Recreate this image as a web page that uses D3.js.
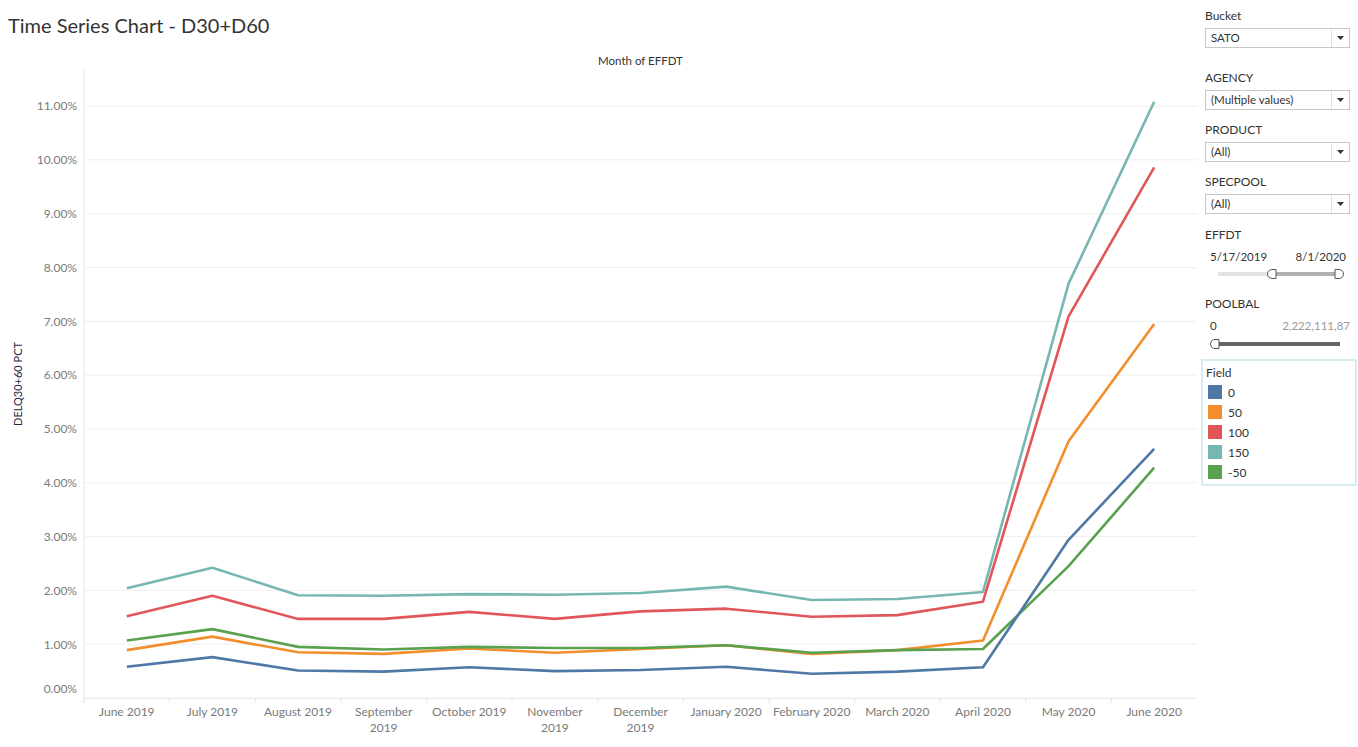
<!DOCTYPE html>
<html>
<head>
<meta charset="utf-8">
<script src="https://cdn.jsdelivr.net/npm/d3@7"></script>
<style>
  body { margin: 0; background: #fff; font-family: Lato, "Open Sans", sans-serif; }
  text { font-family: Lato, "Open Sans", sans-serif; }
</style>
</head>
<body>
<div id="container"></div>
<script>
// Chart data
const months = ["June 2019", "July 2019", "August 2019", "September 2019", "October 2019",
  "November 2019", "December 2019", "January 2020", "February 2020", "March 2020",
  "April 2020", "May 2020", "June 2020"];
// tick labels as shown (wrapped where the band is too narrow)
const xTickLabels = ["June 2019", "July 2019", "August 2019", "September\n2019", "October 2019",
  "November\n2019", "December\n2019", "January 2020", "February 2020", "March 2020",
  "April 2020", "May 2020", "June 2020"];
const fields = ["0", "50", "100", "150", "-50"];
const values0 = [0.58, 0.76, 0.51, 0.49, 0.57, 0.50, 0.52, 0.58, 0.45, 0.49, 0.57, 2.94, 4.63];
const values50 = [0.89, 1.14, 0.85, 0.82, 0.92, 0.84, 0.91, 0.98, 0.82, 0.89, 1.07, 4.77, 6.95];
const values100 = [1.52, 1.90, 1.47, 1.47, 1.60, 1.47, 1.61, 1.66, 1.51, 1.54, 1.79, 7.09, 9.86];
const values150 = [2.04, 2.42, 1.91, 1.90, 1.93, 1.92, 1.95, 2.07, 1.82, 1.84, 1.97, 7.70, 11.08];
const valuesNeg50 = [1.07, 1.28, 0.95, 0.90, 0.95, 0.93, 0.93, 0.98, 0.84, 0.89, 0.91, 2.45, 4.28];
const yTicks = [0, 1, 2, 3, 4, 5, 6, 7, 8, 9, 10, 11];
const colors = ["#4e79a7", "#f28e2b", "#e15759", "#76b7b2", "#59a14f"];

const series = [
  { field: "150", values: values150 },
  { field: "100", values: values100 },
  { field: "50", values: values50 },
  { field: "-50", values: valuesNeg50 },
  { field: "0", values: values0 }
];

// Dimensions
const width = 1358;
const height = 747;
const plotLeft = 84;
const plotRight = 1197;
const plotTop = 70;
const plotBottom = 698;

const svg = d3.select("#container")
  .append("svg")
  .attr("width", width)
  .attr("height", height);

const color = d3.scaleOrdinal().domain(fields).range(colors);

const x = d3.scaleBand()
  .domain(months)
  .range([plotLeft, plotRight]);

const y = d3.scaleLinear()
  .domain([0, 11.67])
  .range([plotBottom, plotTop]);

// Title
svg.append("text")
  .attr("x", 8)
  .attr("y", 33)
  .attr("font-size", 20)
  .attr("fill", "#333")
  .text("Time Series Chart - D30+D60");

// Header
svg.append("text")
  .attr("x", (plotLeft + plotRight) / 2)
  .attr("y", 65)
  .attr("text-anchor", "middle")
  .attr("font-size", 11.5)
  .attr("fill", "#333")
  .text("Month of EFFDT");

// Gridlines
svg.append("g")
  .selectAll("line")
  .data(yTicks)
  .join("line")
  .attr("x1", plotLeft)
  .attr("x2", plotRight)
  .attr("y1", d => y(d))
  .attr("y2", d => y(d))
  .attr("stroke", "#efefef")
  .attr("stroke-width", 1);

// Y axis
const yAxis = svg.append("g")
  .attr("transform", `translate(${plotLeft},0)`)
  .call(d3.axisLeft(y).tickValues(yTicks).tickSize(0).tickPadding(7)
    .tickFormat(d => d3.format(".2f")(d) + "%"));
yAxis.select(".domain").attr("stroke", "#ececec");
yAxis.selectAll("text")
  .attr("font-size", 12)
  .attr("fill", "#7a7a7a")
  .attr("font-family", "Lato, 'Open Sans', sans-serif")
  .attr("dy", d => d === 0 ? "-0.5em" : "0.32em");

// Y axis title
svg.append("text")
  .attr("transform", `translate(22,${(plotTop + plotBottom) / 2}) rotate(-90)`)
  .attr("text-anchor", "middle")
  .attr("font-size", 11)
  .attr("fill", "#2b1f3d")
  .text("DELQ30+60 PCT");

// X axis
const xAxis = svg.append("g")
  .attr("transform", `translate(0,${plotBottom})`)
  .call(d3.axisBottom(x).tickSize(0).tickPadding(9));
xAxis.select(".domain").attr("stroke", "#ececec");
xAxis.selectAll(".tick text")
  .attr("font-size", 12)
  .attr("fill", "#7a7a7a")
  .attr("font-family", "Lato, 'Open Sans', sans-serif")
  .each(function(d, i) {
    const t = d3.select(this);
    const lines = xTickLabels[months.indexOf(d)].split("\n");
    t.text(null);
    lines.forEach((s, j) => {
      t.append("tspan").attr("x", 0).attr("dy", j === 0 ? "0.71em" : "1.35em").text(s);
    });
  });

// Band divider ticks
svg.append("g")
  .selectAll("line")
  .data(months)
  .join("line")
  .attr("x1", d => x(d))
  .attr("x2", d => x(d))
  .attr("y1", plotBottom)
  .attr("y2", plotBottom + 5)
  .attr("stroke", "#e6e6e6");

svg.append("line")
  .attr("x1", plotLeft)
  .attr("x2", plotLeft)
  .attr("y1", plotTop)
  .attr("y2", plotBottom + 5)
  .attr("stroke", "#ececec");

// Lines
const line = d3.line()
  .x((d, i) => x(months[i]) + x.bandwidth() / 2)
  .y(d => y(d));

svg.append("g")
  .selectAll("path")
  .data(series)
  .join("path")
  .attr("d", d => line(d.values))
  .attr("fill", "none")
  .attr("stroke", d => color(d.field))
  .attr("stroke-width", 2.6)
  .attr("stroke-linejoin", "round");

// Right panel: filters
const panel = svg.append("g");
const filters = [
  { label: "Bucket", value: "SATO", y: 16 },
  { label: "AGENCY", value: "(Multiple values)", y: 78 },
  { label: "PRODUCT", value: "(All)", y: 130 },
  { label: "SPECPOOL", value: "(All)", y: 182 }
];

filters.forEach(f => {
  panel.append("text")
    .attr("x", 1205).attr("y", f.y + 4)
    .attr("font-size", 12).attr("fill", "#333")
    .text(f.label);
  panel.append("rect")
    .attr("x", 1205.5).attr("y", f.y + 12.5)
    .attr("width", 144).attr("height", 19)
    .attr("fill", "#fff").attr("stroke", "#c8c8c8");
  panel.append("line")
    .attr("x1", 1331.5).attr("x2", 1331.5)
    .attr("y1", f.y + 13).attr("y2", f.y + 31)
    .attr("stroke", "#e0e0e0");
  panel.append("text")
    .attr("x", 1211).attr("y", f.y + 26)
    .attr("font-size", 11.5).attr("fill", "#333")
    .text(f.value);
  panel.append("path")
    .attr("d", `M1337,${f.y + 20} l7,0 l-3.5,4 z`)
    .attr("fill", "#333");
});

// EFFDT slider
panel.append("text").attr("x", 1205).attr("y", 239)
  .attr("font-size", 12).attr("fill", "#333").text("EFFDT");
panel.append("text").attr("x", 1210).attr("y", 261)
  .attr("font-size", 11.5).attr("fill", "#333").text("5/17/2019");
panel.append("text").attr("x", 1346).attr("y", 261).attr("text-anchor", "end")
  .attr("font-size", 11.5).attr("fill", "#333").text("8/1/2020");
panel.append("line").attr("x1", 1218).attr("x2", 1276).attr("y1", 274).attr("y2", 274)
  .attr("stroke", "#e3e3e3").attr("stroke-width", 4);
panel.append("line").attr("x1", 1276).attr("x2", 1340).attr("y1", 274).attr("y2", 274)
  .attr("stroke", "#b0b0b0").attr("stroke-width", 4);
[1276, 1339].forEach(hx => {
  panel.append("path")
    .attr("d", `M${hx - 4},269.5 l4,0 a4.5,4.5 0 0 1 0,9 l-4,0 z`)
    .attr("transform", hx === 1276 ? `translate(${2 * hx - 4},0) scale(-1,1)` : null)
    .attr("fill", "#fff").attr("stroke", "#555");
});

// POOLBAL slider
panel.append("text").attr("x", 1205).attr("y", 308)
  .attr("font-size", 12).attr("fill", "#333").text("POOLBAL");
panel.append("text").attr("x", 1210).attr("y", 330)
  .attr("font-size", 11.5).attr("fill", "#333").text("0");
panel.append("text").attr("x", 1350).attr("y", 330).attr("text-anchor", "end")
  .attr("font-size", 11.5).attr("fill", "#999").text("2,222,111,87");
panel.append("line").attr("x1", 1214).attr("x2", 1340).attr("y1", 344).attr("y2", 344)
  .attr("stroke", "#666").attr("stroke-width", 4);
panel.append("path")
  .attr("d", "M1219,339.5 l-4,0 a4.5,4.5 0 0 0 0,9 l4,0 z")
  .attr("fill", "#fff").attr("stroke", "#555");

// Legend
const legend = svg.append("g");
legend.append("rect")
  .attr("x", 1202).attr("y", 360)
  .attr("width", 154).attr("height", 125)
  .attr("fill", "#fff").attr("stroke", "#d8eaf2").attr("stroke-width", 2);
legend.append("text").attr("x", 1206).attr("y", 377)
  .attr("font-size", 12).attr("fill", "#333").text("Field");
const items = legend.selectAll("g.item")
  .data(fields)
  .join("g")
  .attr("class", "item")
  .attr("transform", (d, i) => `translate(1208,${385 + i * 20})`);
items.append("rect")
  .attr("width", 14).attr("height", 14)
  .attr("fill", d => color(d));
items.append("text")
  .attr("x", 20).attr("y", 11.5)
  .attr("font-size", 12).attr("fill", "#333")
  .text(d => d);
</script>
</body>
</html>
